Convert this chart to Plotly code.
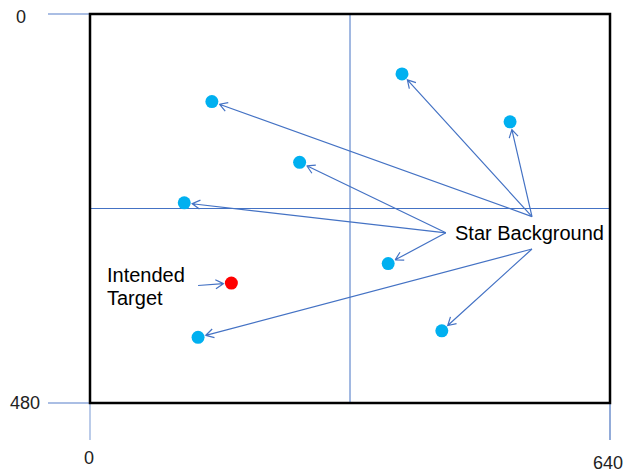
import math
import plotly.graph_objects as go

# ---- data (image coordinates, 640 x 480 frame, y downward) ----
frame_w = 640
frame_h = 480
cross_x = [320]
cross_y = [240]

star_x = [150, 384, 517, 258, 116, 367, 433, 133]
star_y = [108, 74, 133, 183, 233, 308, 391, 399]
target_x = [174]
target_y = [332]

# arrow sources (label anchor points) and which star each arrow points to
src_x = [544, 544, 544, 438, 438, 438, 544, 544]
src_y = [250, 250, 250, 270, 270, 270, 290, 290]
src_star = [0, 1, 2, 3, 4, 5, 6, 7]
target_arrow_src = (133, 335)

x_ticks = [0, 640]
y_ticks = [0, 480]

# ---- pixel scale helpers (body margin removed via post_script) ----
W, H = 626, 475
ox, oy = 90.0, 14.0
sx, sy = 520.0 / 640.0, 389.0 / 480.0
xr = [(0 - ox) / sx, (W - ox) / sx]
yr = [(H - oy) / sy, (0 - oy) / sy]


def to_px(x, y):
    return ox + x * sx, oy + y * sy


def to_data(px, py):
    return (px - ox) / sx, (py - oy) / sy


ARROW = "#4472C4"
arr_x, arr_y = [], []


def add_arrow(s, t, stand=8.0, L=9.0, ang=math.radians(30)):
    spx, spy = to_px(*s)
    tpx, tpy = to_px(*t)
    dx, dy = tpx - spx, tpy - spy
    n = math.hypot(dx, dy)
    ux, uy = dx / n, dy / n
    tipx, tipy = tpx - ux * stand, tpy - uy * stand
    pts = [(spx, spy), (tipx, tipy)]
    for a in (ang, -ang):
        rx = -ux * math.cos(a) + uy * math.sin(a)
        ry = -ux * math.sin(a) - uy * math.cos(a)
        pts.append((tipx + rx * L, tipy + ry * L))
        pts.append((tipx, tipy))
    for p in pts:
        d = to_data(*p)
        arr_x.append(d[0])
        arr_y.append(d[1])
    arr_x.append(None)
    arr_y.append(None)


for i in range(len(src_x)):
    k = src_star[i]
    add_arrow((src_x[i], src_y[i]), (star_x[k], star_y[k]))
add_arrow(target_arrow_src, (target_x[0], target_y[0]))

fig = go.Figure()

fig.add_trace(go.Scatter(x=arr_x, y=arr_y, mode="lines",
                         line=dict(color=ARROW, width=1.2), hoverinfo="skip"))
fig.add_trace(go.Scatter(x=star_x, y=star_y, mode="markers",
                         marker=dict(color="#00B0F0", size=13), hoverinfo="skip"))
fig.add_trace(go.Scatter(x=target_x, y=target_y, mode="markers",
                         marker=dict(color="#FF0000", size=13), hoverinfo="skip"))

shapes = []
shapes.append(dict(type="line", x0=cross_x[0], x1=cross_x[0], y0=0, y1=frame_h,
                   line=dict(color=ARROW, width=1), layer="below"))
shapes.append(dict(type="line", x0=0, x1=frame_w, y0=cross_y[0], y1=cross_y[0],
                   line=dict(color=ARROW, width=1), layer="below"))
tick_len_x = 42 / sx
tick_len_y = 37 / sy
for yv in y_ticks:
    shapes.append(dict(type="line", x0=-tick_len_x, x1=0, y0=yv, y1=yv,
                       line=dict(color="#8EA9DB", width=1.3), layer="below"))
for xv, c in zip(x_ticks, ["#8EA9DB", "#4A74C0"]):
    shapes.append(dict(type="line", x0=xv, x1=xv, y0=frame_h, y1=frame_h + tick_len_y,
                       line=dict(color=c, width=1.2), layer="below"))
shapes.append(dict(type="rect", x0=0, x1=frame_w, y0=0, y1=frame_h,
                   line=dict(color="black", width=2.5), layer="above"))

annotations = []
tick_font = dict(family="Liberation Sans, Arial", size=18, color="#222222")
# y tick labels (pixel shifts: positive xshift = right, positive yshift = up)
for yv, xs, ys in zip(y_ticks, [-69, -65], [-3, 0]):
    annotations.append(dict(x=0, y=yv, text=str(yv), showarrow=False, xanchor="center",
                            yanchor="middle", xshift=xs, yshift=ys, font=tick_font))
# x tick labels
for xv, xs, ys in zip(x_ticks, [-1, -2], [-55, -60]):
    annotations.append(dict(x=xv, y=frame_h, text=str(xv), showarrow=False, xanchor="center",
                            yanchor="middle", xshift=xs, yshift=ys, font=tick_font))

lab_font = dict(family="Liberation Sans, Arial", size=20, color="black")
annotations.append(dict(x=447, y=270, text="Star Background", showarrow=False,
                        xanchor="left", yanchor="middle", font=lab_font))
annotations.append(dict(x=18.5, y=322, text="Intended", showarrow=False,
                        xanchor="left", yanchor="middle", font=lab_font))
annotations.append(dict(x=18.5, y=350.5, text="Target", showarrow=False,
                        xanchor="left", yanchor="middle", font=lab_font))

fig.update_layout(
    width=W, height=H,
    margin=dict(l=0, r=0, t=0, b=0),
    paper_bgcolor="white", plot_bgcolor="white",
    showlegend=False,
    hovermode=False,
    shapes=shapes,
    annotations=annotations,
    xaxis=dict(range=xr, visible=False, fixedrange=True),
    yaxis=dict(range=yr, visible=False, fixedrange=True),
)

fig.write_html(
    "out.html",
    config={"displayModeBar": False, "staticPlot": True},
    post_script="document.body.style.margin='0';document.body.style.overflow='hidden';",
)
